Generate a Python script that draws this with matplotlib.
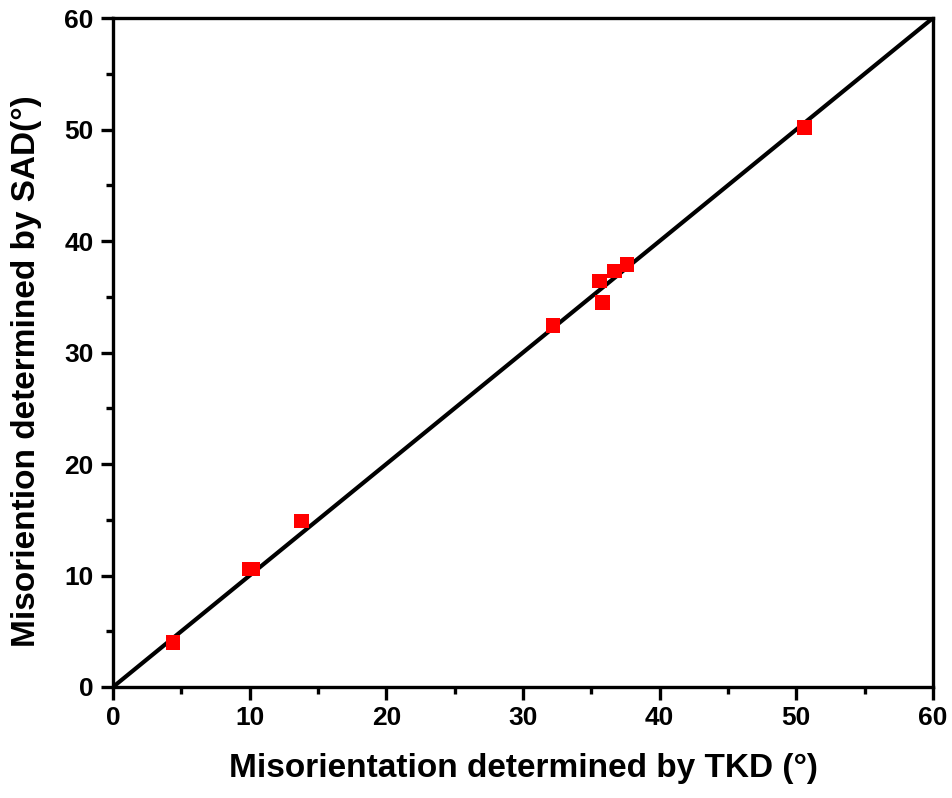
import numpy as np
import matplotlib.pyplot as plt
from matplotlib.ticker import MultipleLocator

# misorientation values (degrees)
tkd = [4.4, 10.0, 10.2, 13.8, 32.2, 35.6, 35.8, 36.7, 37.6, 50.6]
sad = [4.0, 10.6, 10.6, 14.9, 32.4, 36.4, 34.5, 37.3, 37.9, 50.2]
ref_line = [0, 60]


def main():
    plt.rcParams['font.family'] = ['Liberation Sans', 'DejaVu Sans']
    plt.rcParams['font.weight'] = 'bold'

    fig = plt.figure(figsize=(9.52, 7.98), dpi=100)
    ax = fig.add_axes([0.1187, 0.1391, 0.8613, 0.8383])

    ax.plot(ref_line, ref_line, color='black', linewidth=3.0, zorder=2)
    ax.scatter(tkd, sad, marker='s', s=110, color='#ff0000', edgecolors='none', zorder=3)

    ax.set_xlim(0, 60)
    ax.set_ylim(0, 60)
    ax.xaxis.set_major_locator(MultipleLocator(10))
    ax.yaxis.set_major_locator(MultipleLocator(10))
    ax.xaxis.set_minor_locator(MultipleLocator(5))
    ax.yaxis.set_minor_locator(MultipleLocator(5))

    for s in ax.spines.values():
        s.set_linewidth(2.4)
    ax.tick_params(which='major', direction='out', length=9, width=2.4,
                   labelsize=19, pad=5)
    ax.tick_params(which='minor', direction='out', length=5, width=2.4)

    ax.set_xlabel('Misorientation determined by TKD (°)', fontsize=24,
                  fontweight='bold', labelpad=16)
    ax.set_ylabel('Misoriention determined by SAD(°)', fontsize=24,
                  fontweight='bold')
    ax.yaxis.set_label_coords(-0.086, 0.472)

    fig.savefig('out.png', dpi=100)


if __name__ == "__main__":
    main()
